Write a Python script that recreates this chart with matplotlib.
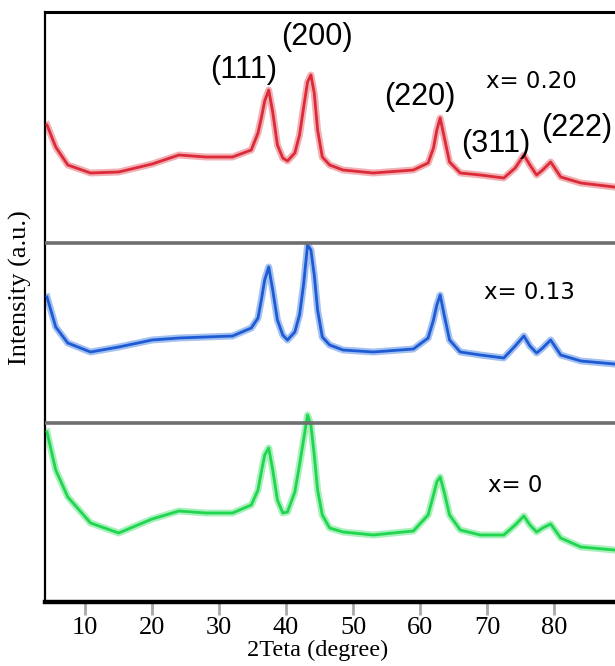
import matplotlib
matplotlib.use("Agg")
import matplotlib.pyplot as plt

# ---- data (stacked XRD patterns, arbitrary intensity units) ----
two_theta = [4.3, 5.6, 7.4, 10.8, 15, 20, 24, 28, 32, 34.8,
             35.8, 36.3, 36.8, 37.4, 38.0, 38.7, 39.5, 40.2, 41.3, 42.0,
             42.6, 43.2, 43.7, 44.2, 44.7, 45.4, 46.5, 48.5, 53, 59,
             61.2, 62.0, 62.5, 63.0, 63.6, 64.4, 66, 69, 72.5, 74.2,
             75.5, 76.4, 77.4, 78.3, 79.5, 81, 84, 89]

int_x020 = [477, 455, 437, 429, 430, 438, 447, 445, 445, 452,
            469, 484, 501, 512, 490, 457, 444, 441, 449, 467,
            494, 520, 527, 509, 472, 445, 437, 432, 429, 432,
            439, 454, 472, 484, 465, 440, 429, 427, 424, 434,
            447, 437, 427, 432, 440, 425, 419, 415]

int_x013 = [305, 275, 259, 250, 255, 262, 264, 265, 266, 274,
            284, 302, 322, 335, 312, 282, 267, 262, 270, 287,
            317, 357, 352, 327, 292, 265, 257, 252, 250, 253,
            264, 282, 297, 307, 287, 262, 250, 247, 244, 256,
            266, 256, 249, 254, 262, 247, 241, 238]

int_x000 = [170, 132, 105, 79, 69, 83, 91, 89, 89, 97,
            112, 130, 147, 154, 132, 102, 89, 90, 110, 137,
            162, 187, 177, 147, 112, 87, 74, 70, 67, 71,
            87, 107, 120, 125, 110, 87, 72, 67, 67, 77,
            86, 77, 70, 74, 78, 64, 55, 52]

series_labels = ["x= 0.20", "x= 0.13", "x= 0"]
peak_labels = ["(111)", "(200)", "(220)", "(311)", "(222)"]
xtick_values = [10, 20, 30, 40, 50, 60, 70, 80]
xtick_labels = ["10", "20", "30", "40", "50", "60", "70", "80"]
separators = [359, 179]

# ---- figure ----
W, H = 615, 666
fig = plt.figure(figsize=(W / 100, H / 100), dpi=100)
left_px, right_px, top_px, bot_px = 45, 621, 12, 602
ax = fig.add_axes([left_px / W, 1 - bot_px / H, (right_px - left_px) / W, (bot_px - top_px) / H])
ax.set_xlim(4, 90)
ax.set_ylim(0, 590)

colors = ["#dc2a38", "#1d5ad4", "#1fd64e"]
halo = ["#f0a2a8", "#93b6ee", "#9aeeb2"]
for ys, c, h in zip([int_x020, int_x013, int_x000], colors, halo):
    ax.plot(two_theta, ys, color=h, lw=5.0, alpha=0.85, solid_joinstyle="round", zorder=2)
    ax.plot(two_theta, ys, color=c, lw=2.0, solid_joinstyle="round", zorder=3)

for s in separators:
    ax.axhline(s, color="#6e6e6e", lw=2.6, zorder=4)

# spines
ax.spines["right"].set_visible(False)
ax.spines["left"].set_linewidth(1.6)
ax.spines["top"].set_linewidth(2.2)
ax.spines["bottom"].set_linewidth(3.2)
for sp in ax.spines.values():
    sp.set_color("black")

ax.set_yticks([])
ax.set_xticks(xtick_values)
ax.set_xticklabels(xtick_labels, fontfamily="Liberation Serif", fontsize=19)
ax.tick_params(axis="x", direction="out", length=9, width=2, color="#a8a8a8", pad=2)

ax.set_xlabel("2Teta (degree)", fontfamily="Liberation Serif", fontsize=17.5)
ax.xaxis.set_label_coords((318 - left_px) / (right_px - left_px), -0.064)
fig.text(20 / W, 1 - 288 / H, "Intensity (a.u.)", rotation=90, ha="center", va="center",
         fontfamily="Liberation Serif", fontsize=19)

# peak labels
pk_font = dict(fontfamily="Liberation Sans", fontsize=22, ha="center", va="center", zorder=5)
ax.text(33.6, 532, peak_labels[0], **pk_font)
ax.text(44.6, 565, peak_labels[1], **pk_font)
ax.text(60.0, 505, peak_labels[2], **pk_font)
ax.text(71.3, 458, peak_labels[3], **pk_font)
ax.text(78.1, 474, peak_labels[4], fontfamily="Liberation Sans", fontsize=22, ha="left", va="center")

sl_font = dict(fontfamily="DejaVu Sans", fontsize=16.5, ha="left", va="center")
ax.text(69.85, 520, series_labels[0], **sl_font)
ax.text(69.55, 309, series_labels[1], **sl_font)
ax.text(70.15, 116, series_labels[2], **sl_font)

fig.savefig("out.png", dpi=100)
